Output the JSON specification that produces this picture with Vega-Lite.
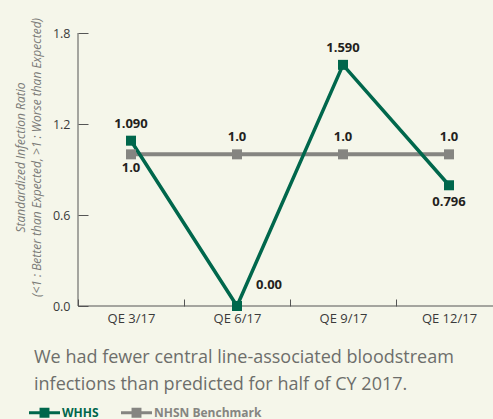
{
  "$schema": "https://vega.github.io/schema/vega-lite/v6.json",
  "width": 415,
  "height": 273,
  "autosize": {"type": "none"},
  "padding": {"left": 78, "top": 33, "right": 0, "bottom": 113},
  "background": "#f5f6ea",
  "config": {"view": {"stroke": null}, "font": "Open Sans"},
  "title": {
    "text": ["We had fewer central line-associated bloodstream", "infections than predicted for half of CY 2017."],
    "orient": "bottom", "anchor": "start", "frame": "group", "dx": -44, "offset": -70,
    "fontSize": 18, "font": "Open Sans", "fontWeight": "normal", "color": "#6d6e6b", "lineHeight": 27
  },
  "data": {"values": [
    {"q": "QE 3/17", "series": "NHSN Benchmark", "v": 1.0, "label": "1.0"},
    {"q": "QE 6/17", "series": "NHSN Benchmark", "v": 1.0, "label": "1.0"},
    {"q": "QE 9/17", "series": "NHSN Benchmark", "v": 1.0, "label": "1.0"},
    {"q": "QE 12/17", "series": "NHSN Benchmark", "v": 1.0, "label": "1.0"},
    {"q": "QE 3/17", "series": "WHHS", "v": 1.09, "label": "1.090"},
    {"q": "QE 6/17", "series": "WHHS", "v": 0.0, "label": "0.00"},
    {"q": "QE 9/17", "series": "WHHS", "v": 1.59, "label": "1.590"},
    {"q": "QE 12/17", "series": "WHHS", "v": 0.796, "label": "0.796"}
  ]},
  "layer": [
    {
      "data": {"values": [{"q": "QE 3/17", "lo": 0, "hi": 1.8}]},
      "mark": {"type": "rule", "color": "#555555", "strokeWidth": 1},
      "encoding": {
        "y": {"field": "lo", "type": "quantitative", "scale": {"domain": [0, 1.8], "nice": false}}
      }
    },
    {
      "data": {"values": [{"q": "QE 3/17", "lo": 0, "hi": 1.8}]},
      "mark": {"type": "rule", "color": "#555555", "strokeWidth": 1},
      "encoding": {
        "x": {"field": "q", "type": "nominal", "bandPosition": 0},
        "y": {"field": "lo", "type": "quantitative"},
        "y2": {"field": "hi"}
      }
    },
    {
      "encoding": {
        "x": {"field": "q", "type": "nominal", "sort": null,
          "scale": {"domain": ["QE 3/17", "QE 6/17", "QE 9/17", "QE 12/17"], "range": [0, 424], "paddingInner": 0, "paddingOuter": 0},
          "axis": {"title": null, "labelAngle": 0, "labelAlign": "center", "bandPosition": 0.5, "tickBand": "extent", "tickSize": 7, "offset": -7, "domain": false, "labelPadding": 12,
            "labelFontSize": 13, "labelColor": "#3a3a3a", "tickColor": "#555555", "grid": false}},
        "y": {"field": "v", "type": "quantitative",
          "axis": {"values": [0, 0.6, 1.2, 1.8], "format": ".1f", "grid": false, "tickSize": 10, "offset": -10, "domain": false, "labelPadding": 8,
            "labelFontSize": 12.5, "labelColor": "#3a3a3a", "tickColor": "#555555",
            "title": ["Standardized Infection Ratio", "(<1 : Better than Expected, >1 : Worse than Expected)"],
            "titleFont": "Open Sans", "titleFontStyle": "italic", "titleFontWeight": "normal", "titleFontSize": 12, "titleColor": "#7b7b78",
            "titleLineHeight": 16, "titleX": -68, "titleY": 124, "titleAngle": -90, "titleAlign": "center", "titleBaseline": "middle"}}
      },
      "layer": [
        {
          "transform": [{"filter": "datum.series == 'NHSN Benchmark'"}],
          "mark": {"type": "line", "strokeWidth": 4},
          "encoding": {"color": {"field": "series", "type": "nominal",
            "scale": {"domain": ["WHHS", "NHSN Benchmark"], "range": ["#00674c", "#858581"]},
            "legend": {"orient": "none", "legendX": -49, "legendY": 364, "direction": "horizontal", "title": null,
              "symbolType": "M-1,-0.1H1V0.1H-1Z M-0.32,-0.32H0.32V0.32H-0.32Z", "symbolSize": 961, "symbolStrokeWidth": 0,
              "labelFont": "Open Sans", "labelFontSize": 12, "labelFontWeight": "bold", "labelOffset": 2, "columnPadding": 22,
              "encode": {"symbols": {"update": {"fill": {"scale": "color", "field": "value"}, "opacity": {"value": 1}}},
                         "labels": {"update": {"fill": {"scale": "color", "field": "value"}}}}}}}
        },
        {
          "transform": [{"filter": "datum.series == 'WHHS'"}],
          "mark": {"type": "line", "strokeWidth": 3.5},
          "encoding": {"color": {"field": "series", "type": "nominal"}}
        },
        {
          "mark": {"type": "square", "size": 100, "filled": true, "opacity": 1},
          "encoding": {"color": {"field": "series", "type": "nominal"}}
        },
        {
          "transform": [{"filter": "datum.series == 'WHHS' && (datum.q == 'QE 3/17' || datum.q == 'QE 9/17')"}],
          "mark": {"type": "text", "dy": -17, "fontSize": 13, "fontWeight": "bold", "color": "#231f20"},
          "encoding": {"text": {"field": "label"}}
        },
        {
          "transform": [{"filter": "datum.series == 'WHHS' && datum.q == 'QE 12/17'"}],
          "mark": {"type": "text", "dy": 17, "fontSize": 13, "fontWeight": "bold", "color": "#231f20"},
          "encoding": {"text": {"field": "label"}}
        },
        {
          "transform": [{"filter": "datum.series == 'WHHS' && datum.q == 'QE 6/17'"}],
          "mark": {"type": "text", "dx": 32, "dy": -21, "fontSize": 13, "fontWeight": "bold", "color": "#231f20"},
          "encoding": {"text": {"field": "label"}}
        },
        {
          "transform": [{"filter": "datum.series == 'NHSN Benchmark' && datum.q == 'QE 3/17'"}],
          "mark": {"type": "text", "dy": 14, "fontSize": 13, "fontWeight": "bold", "color": "#231f20"},
          "encoding": {"text": {"field": "label"}}
        },
        {
          "transform": [{"filter": "datum.series == 'NHSN Benchmark' && datum.q != 'QE 3/17'"}],
          "mark": {"type": "text", "dy": -17, "fontSize": 13, "fontWeight": "bold", "color": "#231f20"},
          "encoding": {"text": {"field": "label"}}
        }
      ]
    }
  ]
}
